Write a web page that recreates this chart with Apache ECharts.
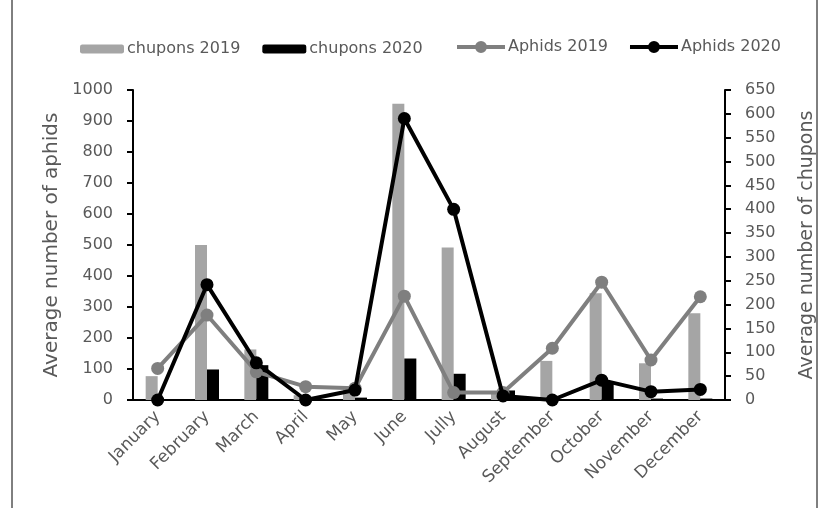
<!DOCTYPE html>
<html>
<head>
<meta charset="utf-8">
<script src="https://cdn.jsdelivr.net/npm/echarts@6/dist/echarts.min.js"></script>
<style>html,body{margin:0;padding:0;background:#fff;}#c{width:828px;height:508px;}</style>
</head>
<body>
<div id="c"></div>
<script>
const months = ['January','February','March','April','May','June','Jully','August','September','October','November','December'];
const chupons2019 = [50, 325, 106, 10, 25, 621, 320, 15, 82, 224, 77, 182];
const chupons2020 = [0, 64, 73, 0, 5, 87, 55, 20, 0, 38, 3, 3];
const aphids2019 = [102, 274, 91, 43, 38, 335, 24, 24, 167, 380, 129, 333];
const aphids2020 = [0, 372, 120, 0, 32, 908, 615, 13, 0, 64, 27, 34];
const leftTicks = {min: 0, max: 1000, interval: 100};
const rightTicks = {min: 0, max: 650, interval: 50};

const FONT = 'DejaVu Sans';
const TXT = '#595959';
const LINE_ICON = 'path://M0,4 L48,4 L48,8 L0,8 Z M18,6 A6,6 0 1,1 30,6 A6,6 0 1,1 18,6 Z';
const chart = echarts.init(document.getElementById('c'), null, {renderer: 'canvas'});
chart.setOption({
  animation: false,
  backgroundColor: '#fff',
  textStyle: {fontFamily: FONT},
  graphic: [{type: 'rect', shape: {x: 12, y: -2, width: 805, height: 512}, style: {fill: 'none', stroke: '#000', lineWidth: 1}, silent: true}],
  legend: [{
    left: 75, top: 36, itemGap: 22, itemWidth: 44, itemHeight: 9,
    textStyle: {fontFamily: FONT, fontSize: 16, color: TXT, padding: [0, 0, 0, -2]},
    data: ['chupons 2019', 'chupons 2020']
  }, {
    left: 452, top: 34, itemGap: 22, itemWidth: 48, itemHeight: 12,
    textStyle: {fontFamily: FONT, fontSize: 16, color: TXT, padding: [0, 0, 0, -2]},
    data: [{name: 'Aphids 2019', icon: LINE_ICON}, {name: 'Aphids 2020', icon: LINE_ICON}]
  }],
  grid: {left: 133, right: 103, top: 90, bottom: 108},
  xAxis: {
    type: 'category', data: months,
    axisLine: {lineStyle: {color: '#000', width: 2}},
    axisTick: {show: false},
    axisLabel: {rotate: 45, fontSize: 17, color: TXT, fontFamily: FONT, margin: 14, interval: 0}
  },
  yAxis: [{
    type: 'value', min: leftTicks.min, max: leftTicks.max, interval: leftTicks.interval,
    name: 'Average number of aphids', nameLocation: 'middle', nameGap: 64, nameRotate: 90,
    nameTextStyle: {fontSize: 20, color: TXT, fontFamily: FONT},
    axisLine: {show: true, lineStyle: {color: '#000', width: 2}},
    axisTick: {show: true, inside: false, length: 6, lineStyle: {color: '#000', width: 2}},
    axisLabel: {fontSize: 16, color: TXT, fontFamily: FONT, margin: 20, formatter: v => String(v)},
    splitLine: {show: false}
  }, {
    type: 'value', min: rightTicks.min, max: rightTicks.max, interval: rightTicks.interval,
    name: 'Average number of chupons', nameLocation: 'middle', nameGap: 73, nameRotate: 90,
    nameTextStyle: {fontSize: 19, color: TXT, fontFamily: FONT},
    axisLine: {show: true, lineStyle: {color: '#000', width: 2}},
    axisTick: {show: true, inside: false, length: 6, lineStyle: {color: '#000', width: 2}},
    axisLabel: {fontSize: 16, color: TXT, fontFamily: FONT, margin: 20, formatter: v => String(v)},
    splitLine: {show: false}
  }],
  series: [
    {name: 'chupons 2019', type: 'bar', yAxisIndex: 1, data: chupons2019, barWidth: 12, barGap: '0%', itemStyle: {color: '#a5a5a5'}, z: 1},
    {name: 'chupons 2020', type: 'bar', yAxisIndex: 1, data: chupons2020, barWidth: 12, barGap: '0%', itemStyle: {color: '#000'}, z: 1},
    {name: 'Aphids 2019', type: 'line', yAxisIndex: 0, data: aphids2019, symbol: 'circle', symbolSize: 13,
     lineStyle: {color: '#7f7f7f', width: 4}, itemStyle: {color: '#7f7f7f'}, z: 3},
    {name: 'Aphids 2020', type: 'line', yAxisIndex: 0, data: aphids2020, symbol: 'circle', symbolSize: 13,
     lineStyle: {color: '#000', width: 4}, itemStyle: {color: '#000'}, z: 4}
  ]
});
</script>
</body>
</html>
